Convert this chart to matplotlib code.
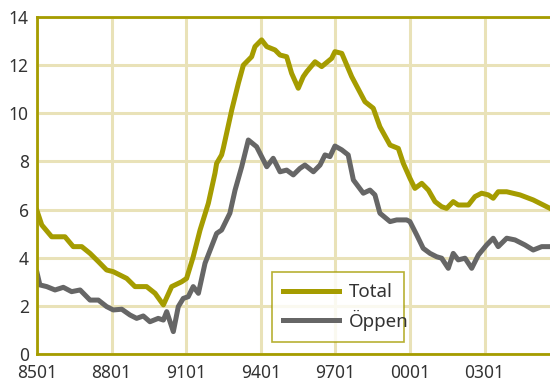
import numpy as np
import matplotlib
matplotlib.use('Agg')
import matplotlib.pyplot as plt

plt.rcParams['font.family'] = ['Noto Sans', 'DejaVu Sans']

# months since 1985-01 and values
total_m = [0, 2.3, 7.1, 13.5, 17.5, 21.6, 25.6, 29.6, 33.6, 36.8, 43.3, 47.3, 52.9, 57, 61,
           65, 69.8, 72.2, 75.4, 78.7, 82.7, 85.9, 86.7, 89.1, 89.9, 94, 97.2, 99.6, 103.6,
           105.2, 108.4, 110.9, 114.9, 117.3, 120.5, 122.9, 126.1, 128.5, 130.2, 134.2,
           137.4, 142.2, 143.8, 147.1, 151.9, 158.3, 162.3, 165.5, 170.4, 174.4, 176.8, 180,
           182.4, 185.7, 188.9, 192.1, 195.3, 197.7, 200.9, 203.3, 208.2, 211.4, 214.6,
           217.8, 220.2, 222.6, 226.7, 233.1, 239.5, 247.6]
total_v = [5.95, 5.36, 4.87, 4.87, 4.46, 4.46, 4.18, 3.84, 3.49, 3.42, 3.14, 2.80, 2.80, 2.52, 2.04,
           2.80, 3.0, 3.14, 4.04, 5.15, 6.26, 7.51, 7.92, 8.27, 8.54, 10.14, 11.25, 12.0, 12.35,
           12.77, 13.05, 12.77, 12.63, 12.42, 12.35, 11.66, 11.04, 11.52, 11.73, 12.14,
           11.94, 12.28, 12.56, 12.49, 11.52, 10.48, 10.21, 9.44, 8.68, 8.54, 7.92, 7.30,
           6.88, 7.09, 6.81, 6.33, 6.12, 6.05, 6.33, 6.19, 6.19, 6.54, 6.68,
           6.61, 6.47, 6.74, 6.74, 6.61, 6.40, 6.05]

oppen_m = [0, 1.4, 4.7, 8.7, 12.7, 16.7, 20.8, 25.6, 29.6, 33.6, 36.8, 40.9, 44.9, 48.1, 51.3,
           54.5, 58.5, 61, 62.6, 65.8, 68.2, 70.6, 73, 75.4, 77.9, 81.1, 86.7, 89.1, 93.1,
           95.6, 98.8, 102, 106, 110.9, 114, 117.3, 120.5, 123.7, 126.9, 129.3, 133.4, 136.6,
           139, 141.4, 143.8, 147.1, 150.2, 152.7, 157.5, 160.7, 163.1, 165.5, 170.4, 173.6,
           178.4, 180, 183.3, 186.4, 189.7, 192.9, 195.3, 198.5, 200.9, 203.3, 206.6, 209.8,
           213, 217, 220.2, 222.6, 226.7, 230.7, 235.5, 239.5, 243.6, 247.6]
oppen_v = [3.38, 2.87, 2.80, 2.66, 2.77, 2.59, 2.66, 2.24, 2.24, 1.97, 1.83, 1.86, 1.62, 1.48, 1.58,
           1.34, 1.48, 1.41, 1.76, 0.93, 1.97, 2.31, 2.38, 2.80, 2.52, 3.77, 5.01, 5.15, 5.85,
           6.81, 7.78, 8.89, 8.61, 7.78, 8.13, 7.57, 7.64, 7.44, 7.71, 7.85, 7.57, 7.85,
           8.27, 8.20, 8.64, 8.48, 8.27, 7.23, 6.68, 6.81, 6.61, 5.85, 5.50, 5.57,
           5.57, 5.50, 4.94, 4.39, 4.18, 4.04, 3.98, 3.56, 4.18, 3.91, 3.98, 3.56,
           4.11, 4.53, 4.81, 4.46, 4.81, 4.74, 4.53, 4.32, 4.46, 4.46]

tick_pos = [0, 36, 72, 108, 144, 180, 216]
tick_labels = ['8501', '8801', '9101', '9401', '9701', '0001', '0301']

olive = '#a59c00'
grey = '#666666'
gridc = '#e9e2b8'

fig = plt.figure(figsize=(5.5, 3.84), dpi=100)
ax = fig.add_axes([37 / 550, 30 / 384, 513 / 550, 337 / 384])

ax.plot(total_m, total_v, color=olive, lw=3.6, label='Total', solid_joinstyle='round')
ax.plot(oppen_m, oppen_v, color=grey, lw=3.6, label='Öppen', solid_joinstyle='round')

ax.set_xlim(0, 247.6)
ax.set_ylim(0, 14)
ax.set_yticks(range(0, 15, 2))
ax.set_xticks(tick_pos)
ax.set_xticklabels(tick_labels)
ax.tick_params(length=0, labelsize=12.5, colors='#333333')
ax.tick_params(axis='x', pad=7)
ax.tick_params(axis='y', pad=6)

ax.grid(True, color=gridc, lw=2.2)
ax.set_axisbelow(True)
for s in ['left', 'top', 'bottom']:
    ax.spines[s].set_color(olive)
    ax.spines[s].set_linewidth(2)
ax.spines['right'].set_visible(False)

leg = ax.legend(loc='lower left', bbox_to_anchor=(0.458, 0.036, 0.257, 0.207), mode='expand',
                borderaxespad=0, fontsize=13.5, frameon=True, fancybox=False,
                handlelength=3.0, handletextpad=0.5, borderpad=0.6, labelspacing=0.45)
leg.get_frame().set_edgecolor(olive)
leg.get_frame().set_linewidth(1.2)
for t in leg.get_texts():
    t.set_color('#333333')

fig.savefig('out.png', dpi=100)
